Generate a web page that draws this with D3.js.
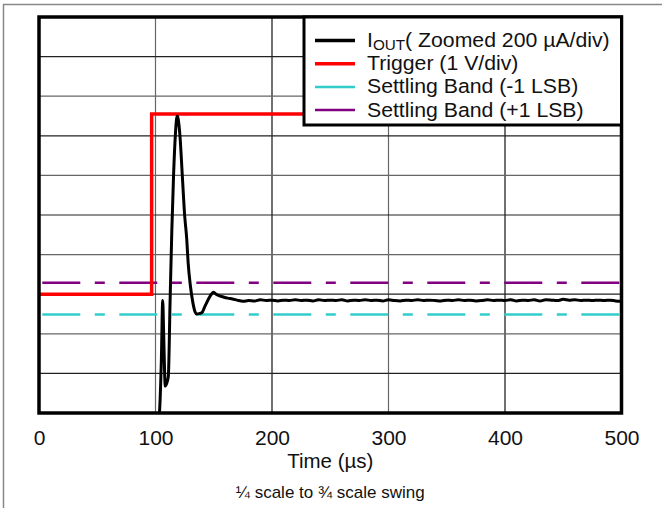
<!DOCTYPE html>
<html><head><meta charset="utf-8">
<script src="https://cdn.jsdelivr.net/npm/d3@7"></script>
<style>html,body{margin:0;padding:0;background:#fff;}svg{display:block;font-family:Arial,"Liberation Sans",sans-serif;}</style>
</head><body>
<svg id="c" width="662" height="508"></svg>
<script>
// ---- data ----
const xTicks = [0, 100, 200, 300, 400, 500];
const yDivs = [0,1,2,3,4,5,6,7,8,9,10];
const triggerTime = [0, 96.7, 96.7, 500];
const triggerVal  = [3.0, 3.0, 7.55, 7.55];
const bandPlus  = 3.29;
const bandMinus = 2.49;
const ioutTime = [102.5,103.6,105.0,106.2,107.0,108.4,109.6,111.0,112.5,114.0,115.5,117.0,118.2,118.8,119.6,121.0,123.0,125.0,126.8,128.0,130.0,132.0,134.0,135.3,137.5,139.7,142.5,145.5,148.0,149.8,152.0,155.0,158.2,162.0,166.0,170.0,
  175,180,185,190,195,200,205,210,215,220,225,230,235,240,245,250,255,260,265,270,275,280,285,290,295,300,305,310,315,320,325,330,335,340,345,350,355,360,365,370,375,380,385,390,395,400,405,410,415,420,425,430,435,440,445,450,455,460,465,470,475,480,485,490,495,500];
const ioutVal = [-0.3,0.1,1.3,2.84,2.0,0.68,0.75,0.92,2.8,4.6,6.0,7.0,7.45,7.5,7.4,7.0,6.0,5.0,4.4,3.8,3.2,2.8,2.55,2.5,2.51,2.53,2.7,2.88,3.0,3.05,3.0,2.96,2.93,2.9,2.88,2.85,
  2.82,2.84,2.83,2.86,2.84,2.85,2.83,2.85,2.84,2.86,2.84,2.85,2.83,2.86,2.84,2.85,2.84,2.86,2.83,2.85,2.84,2.86,2.84,2.85,2.83,2.86,2.84,2.83,2.85,2.84,2.86,2.84,2.85,2.84,2.83,2.85,2.84,2.86,2.84,2.85,2.83,2.84,2.86,2.84,2.85,2.84,2.86,2.83,2.85,2.84,2.86,2.83,2.86,2.85,2.84,2.87,2.85,2.86,2.84,2.85,2.84,2.85,2.84,2.85,2.83,2.82];
const legendLabels = ["Trigger (1 V/div)", "Settling Band (-1 LSB)", "Settling Band (+1 LSB)"];
const colors = {iout:"#000000", trigger:"#ff0000", minus:"#33cccc", plus:"#800080"};
const xTitle = "Time (\u00b5s)";
const subTitle = "\u00bc scale to \u00be scale swing";

// ---- layout ----
const svg = d3.select("#c");
const L = 39, R = 621.5, T = 17, B = 413;
const x = d3.scaleLinear().domain([0,500]).range([L,R]);
const y = d3.scaleLinear().domain([0,10]).range([B,T]);

// outer frame
svg.append("line").attr("x1",3).attr("x2",662).attr("y1",4.5).attr("y2",4.5).attr("stroke","#888").attr("stroke-width",1.5);
svg.append("line").attr("x1",3.5).attr("x2",3.5).attr("y1",4).attr("y2",508).attr("stroke","#888").attr("stroke-width",1.5);

// gridlines
const g = svg.append("g");
g.selectAll(".gx").data(xTicks.slice(1,-1)).join("line")
  .attr("x1",d=>x(d)).attr("x2",d=>x(d)).attr("y1",T).attr("y2",B)
  .attr("stroke",(d,i)=> i%2===0 ? "#666" : "#111").attr("stroke-width",1.2);
g.selectAll(".gy").data(yDivs.slice(1,-1)).join("line")
  .attr("x1",L).attr("x2",R).attr("y1",d=>y(d)).attr("y2",d=>y(d))
  .attr("stroke",(d,i)=> i%2===0 ? "#222" : "#666").attr("stroke-width",1.2);

svg.append("clipPath").attr("id","clip").append("rect").attr("x",L).attr("y",T).attr("width",R-L).attr("height",B-T);
const plot = svg.append("g").attr("clip-path","url(#clip)");

// settling bands
const dash = "38,14.5,10,14.5";
[[bandPlus,colors.plus],[bandMinus,colors.minus]].forEach(([v,c])=>{
  plot.append("line").attr("x1",x(0)).attr("x2",x(500)).attr("y1",y(v)).attr("y2",y(v))
    .attr("stroke",c).attr("stroke-width",2.5).attr("stroke-dasharray",dash).attr("stroke-dashoffset",73.7);
});

// trigger
const trig = triggerTime.map((t,i)=>[t,triggerVal[i]]);
plot.append("path").datum(trig).attr("fill","none").attr("stroke",colors.trigger).attr("stroke-width",3.5)
  .attr("stroke-linejoin","miter")
  .attr("d", d3.line().x(d=>x(d[0])).y(d=>y(d[1])));

// iout
const iout = ioutTime.map((t,i)=>[t,ioutVal[i]]);
plot.append("path").datum(iout).attr("fill","none").attr("stroke",colors.iout).attr("stroke-width",3)
  .attr("stroke-linejoin","round")
  .attr("d", d3.line().x(d=>x(d[0])).y(d=>y(d[1])).curve(d3.curveMonotoneX));

// plot border
svg.append("rect").attr("x",L).attr("y",T).attr("width",R-L).attr("height",B-T)
  .attr("fill","none").attr("stroke","#000").attr("stroke-width",3.5);

// x axis labels
const xa = d3.axisBottom(x).tickValues(xTicks).tickSize(0).tickPadding(0);
const axG = svg.append("g").attr("transform",`translate(0,${B})`).call(xa);
axG.select(".domain").remove();
axG.selectAll("text").attr("font-size",21).attr("fill","#111").attr("font-family","Arial, 'Liberation Sans', sans-serif")
  .attr("dy",null).attr("y",32);

svg.append("text").attr("x",(L+R)/2).attr("y",467.5).attr("text-anchor","middle")
  .attr("font-size",20.5).attr("fill","#111").text(xTitle);
svg.append("text").attr("x",(L+R)/2).attr("y",498).attr("text-anchor","middle")
  .attr("font-size",17).attr("fill","#111").text(subTitle);

// legend
const lg = svg.append("g");
lg.append("rect").attr("x",304).attr("y",T).attr("width",R-304).attr("height",125-T)
  .attr("fill","#fff").attr("stroke","#000").attr("stroke-width",3);
const rows = [colors.iout, colors.trigger, colors.minus, colors.plus];
const rowY = i => 40.5 + i*23.2;
rows.forEach((c,i)=>{
  lg.append("line").attr("x1",315).attr("x2",355).attr("y1",rowY(i)).attr("y2",rowY(i))
    .attr("stroke",c).attr("stroke-width", i<2 ? 3.5 : 2.5);
});
const sx = 1.09;
const t0 = lg.append("text").attr("transform",`translate(367,${rowY(0)+6.5}) scale(${sx},1)`)
  .attr("font-size",19.5).attr("fill","#111");
t0.append("tspan").text("I");
t0.append("tspan").attr("font-size",14).attr("dy",3).text("OUT");
t0.append("tspan").attr("dy",-3).text("( Zoomed 200 \u00b5A/div)");
legendLabels.forEach((s,i)=>{
  lg.append("text").attr("transform",`translate(367,${rowY(i+1)+6.5}) scale(${sx},1)`)
    .attr("font-size",19.5).attr("fill","#111").text(s);
});
</script>
</body></html>
